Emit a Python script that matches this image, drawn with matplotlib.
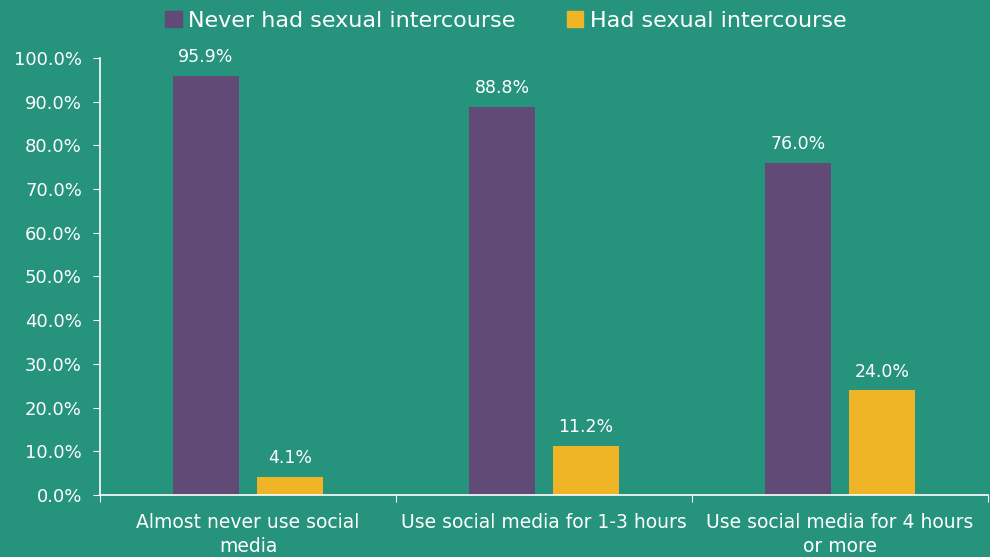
import numpy as np
import matplotlib
matplotlib.use("Agg")
import matplotlib.pyplot as plt
from matplotlib.patches import Patch

categories = ["Almost never use social\nmedia", "Use social media for 1-3 hours",
              "Use social media for 4 hours\nor more"]
never_had = [95.9, 88.8, 76.0]
had = [4.1, 11.2, 24.0]
series_names = ["Never had sexual intercourse", "Had sexual intercourse"]
yticks = np.arange(0, 101, 10)

bg = "#26937D"
purple = "#614A75"
yellow = "#F0B427"
white = "white"

plt.rcParams['font.family'] = ['DejaVu Sans']

fig = plt.figure(figsize=(9.9, 5.57), dpi=100, facecolor=bg)
ax = fig.add_axes([0.101, 0.1113, 0.897, 0.7846], facecolor=bg)

x = np.arange(len(categories))
w = 0.226
off = 0.142
b1 = ax.bar(x - off, never_had, w, color=purple)
b2 = ax.bar(x + off, had, w, color=yellow)

for bars, vals in ((b1, never_had), (b2, had)):
    for r, v in zip(bars, vals):
        ax.text(r.get_x() + r.get_width() / 2, v + 2.2, f"{v:.1f}%",
                ha="center", va="bottom", color=white, fontsize=12.5)

ax.set_xlim(-0.5, 2.5)
ax.set_ylim(0, 100)
ax.set_yticks(yticks)
ax.set_yticklabels([f"{t:.1f}%" for t in yticks])
ax.set_xticks([-0.5, 0.5, 1.5, 2.5])
ax.set_xticklabels([])
ax.set_xticks(x, minor=True)
ax.set_xticklabels(categories, minor=True)
ax.tick_params(axis="x", which="major", length=5, color=white, direction="out")
ax.tick_params(axis="x", which="minor", length=0, labelsize=13.5, labelcolor=white, pad=13)
ax.tick_params(axis="y", length=5, color=white, labelsize=13, labelcolor=white, pad=8)
for lbl in ax.get_xticklabels(minor=True):
    lbl.set_linespacing(1.3)

for s in ("top", "right"):
    ax.spines[s].set_visible(False)
for s in ("left", "bottom"):
    ax.spines[s].set_color(white)
    ax.spines[s].set_linewidth(1.2)

handles = [Patch(color=purple), Patch(color=yellow)]
fig.legend(handles, series_names, loc="upper center", bbox_to_anchor=(0.511, 1.017),
           ncol=2, frameon=False, fontsize=16, labelcolor=white,
           handlelength=0.75, handleheight=0.75, handletextpad=0.3, columnspacing=2.3)

fig.savefig("out.png", dpi=100, facecolor=bg)
